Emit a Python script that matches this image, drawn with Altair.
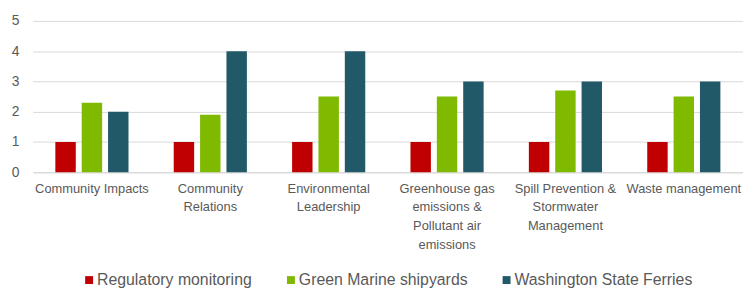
import altair as alt
import pandas as pd

categories = [
    "Community Impacts",
    "Community Relations",
    "Environmental Leadership",
    "Greenhouse gas emissions & Pollutant air emissions",
    "Spill Prevention & Stormwater Management",
    "Waste management",
]
label_lines = [
    ["Community Impacts"],
    ["Community", "Relations"],
    ["Environmental", "Leadership"],
    ["Greenhouse gas", "emissions &", "Pollutant air", "emissions"],
    ["Spill Prevention &", "Stormwater", "Management"],
    ["Waste management"],
]
series = ["Regulatory monitoring", "Green Marine shipyards", "Washington State Ferries"]
colors = ["#c00000", "#7fba00", "#215968"]
regulatory = [1, 1, 1, 1, 1, 1]
green_marine = [2.3, 1.9, 2.5, 2.5, 2.7, 2.5]
wsf = [2, 4, 4, 3, 3, 3]
y_ticks = [0, 1, 2, 3, 4, 5]

rows = []
for i, c in enumerate(categories):
    for s, vals in zip(series, [regulatory, green_marine, wsf]):
        rows.append({"category": c, "series": s, "value": vals[i]})
df = pd.DataFrame(rows)

expr = "[datum.label]"
for c, lines in reversed(list(zip(categories, label_lines))):
    arr = "[" + ",".join("'" + l + "'" for l in lines) + "]"
    expr = f"datum.label == '{c}' ? {arr} : ({expr})"

chart = (
    alt.Chart(df)
    .mark_bar()
    .encode(
        x=alt.X(
            "category:N",
            sort=categories,
            scale=alt.Scale(paddingInner=0.382, paddingOuter=0.191),
            axis=alt.Axis(
                title=None,
                labelAngle=0,
                labelExpr=expr,
                labelFont="Liberation Sans Narrow, Arial Narrow, Liberation Sans, Arial, sans-serif",
                labelFontSize=13,
                labelLineHeight=19,
                labelColor="#595959",
                labelPadding=10,
                labelBaseline="top",
                ticks=False,
                domainColor="#d9d9d9",
                labelLimit=200,
                labelOverlap=False,
            ),
        ),
        xOffset=alt.XOffset(
            "series:N",
            sort=series,
            scale=alt.Scale(paddingInner=0.225, paddingOuter=0),
        ),
        y=alt.Y(
            "value:Q",
            scale=alt.Scale(domain=[0, 5], nice=False),
            axis=alt.Axis(
                title=None,
                values=y_ticks,
                labelFont="Liberation Sans, Arial, sans-serif",
                labelFontSize=14,
                labelColor="#595959",
                labelPadding=14,
                ticks=False,
                domain=False,
                gridColor="#d9d9d9",
            ),
        ),
        color=alt.Color(
            "series:N",
            sort=series,
            scale=alt.Scale(domain=series, range=colors),
            legend=alt.Legend(
                title=None,
                orient="none",
                direction="horizontal",
                legendX=49,
                legendY=254,
                symbolType="square",
                symbolSize=64,
                symbolStrokeWidth=0,
                labelFont="Liberation Sans, Arial, sans-serif",
                labelFontSize=16,
                labelColor="#595959",
                labelOffset=0,
                labelLimit=300,
                columnPadding=31,
                padding=0,
            ),
        ),
    )
    .properties(
        width=718,
        height=153,
        autosize=alt.AutoSizeParams(type="none"),
        padding={"left": 25, "top": 11.5, "right": 0, "bottom": 118},
    )
    .configure_view(stroke=None)
)

chart.save("out.html", embed_options={"renderer": "svg", "actions": False})
